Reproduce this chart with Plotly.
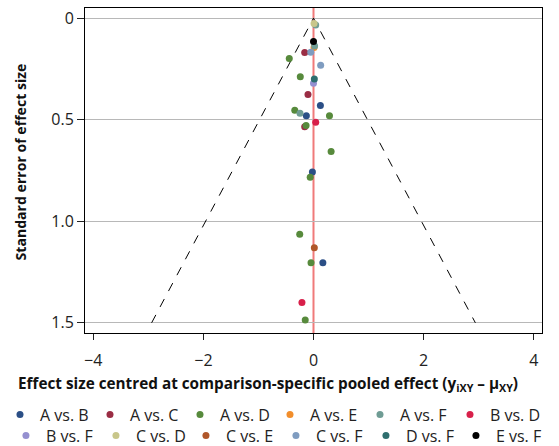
import plotly.graph_objects as go

# ---- data: (effect centred, standard error) per comparison ----
comparisons = ["A vs. B", "A vs. C", "A vs. D", "A vs. E", "A vs. F", "B vs. D",
               "B vs. F", "C vs. D", "C vs. E", "C vs. F", "D vs. F", "E vs. F"]

ab_x = [0.125, -0.13, -0.02, 0.17]
ab_se = [0.430, 0.480, 0.757, 1.204]
ac_x = [-0.16, -0.10, -0.16]
ac_se = [0.169, 0.376, 0.534]
ad_x = [-0.44, -0.24, -0.34, 0.29, -0.135, 0.32, -0.06, -0.25, -0.045, -0.15]
ad_se = [0.199, 0.289, 0.453, 0.480, 0.529, 0.657, 0.783, 1.064, 1.204, 1.486]
ae_x = [0.01]
ae_se = [0.145]
af_x = [0.04, 0.02, -0.245]
af_se = [0.034, 0.137, 0.468]
bd_x = [0.04, -0.21]
bd_se = [0.512, 1.400]
bf_x = [0.0]
bf_se = [0.320]
cd_x = [0.01]
cd_se = [0.026]
ce_x = [0.015]
ce_se = [1.130]
cf_x = [-0.05, 0.13]
cf_se = [0.168, 0.232]
df_x = [0.015]
df_se = [0.299]
ef_x = [0.0]
ef_se = [0.115]

xs = [ab_x, ac_x, ad_x, ae_x, af_x, bd_x, bf_x, cd_x, ce_x, cf_x, df_x, ef_x]
ses = [ab_se, ac_se, ad_se, ae_se, af_se, bd_se, bf_se, cd_se, ce_se, cf_se, df_se, ef_se]

colors = ["#2b4f86", "#9a2d44", "#578a3c", "#f28e2b", "#6f9c94", "#d8204a",
          "#9590d0", "#c8c68a", "#b0572a", "#7f9cc0", "#2e6e6e", "#000000"]

funnel_se = [1.5, 0.0, 1.5]
z_crit = 1.96

x_ticks = [-4, -2, 0, 2, 4]
y_ticks = [0, 0.5, 1.0, 1.5]
y_ticktext = ["0", "0.5", "1.0", "1.5"]

x_title = "Effect size centred at comparison-specific pooled effect (y<sub>iXY</sub> \u2013 \u03bc<sub>XY</sub>)"
y_title = "Standard error of effect size"

FONT = "Open Sans"
TXT = "#222222"

fig = go.Figure()

# pseudo 95% confidence funnel
fig.add_trace(go.Scatter(
    x=[-z_crit * funnel_se[0], 0, z_crit * funnel_se[2]], y=funnel_se,
    mode="lines", line=dict(color="black", width=1, dash="dash"),
    showlegend=False, hoverinfo="skip"))

for i, (name, x, se, c) in enumerate(zip(comparisons, xs, ses, colors)):
    fig.add_trace(go.Scatter(
        x=x, y=se, mode="markers", name=name,
        marker=dict(color=c, size=7, line=dict(width=0)),
        legend="legend" if i < 6 else "legend2"))

fig.add_shape(type="line", xref="x", yref="paper", x0=0, x1=0, y0=0, y1=1,
              line=dict(color="#f07a7a", width=2), layer="between")

legend_common = dict(orientation="h", xanchor="left", yanchor="middle",
                     entrywidth=45, entrywidthmode="pixels",
                     font=dict(family=FONT, size=16, color=TXT),
                     bgcolor="rgba(0,0,0,0)", borderwidth=0, itemwidth=30)

fig.update_layout(
    width=559, height=446,
    margin=dict(l=85, r=17, t=8, b=113, autoexpand=False),
    plot_bgcolor="white", paper_bgcolor="white",
    font=dict(family=FONT, size=14, color=TXT),
    legend=dict(x=-0.186, y=-0.251, **legend_common),
    legend2=dict(x=-0.173, y=-0.316, **legend_common),
    xaxis=dict(range=[-4.15, 4.15], tickvals=x_ticks, ticks="outside", ticklen=6,
               tickcolor=TXT, showgrid=False, zeroline=False, automargin=False,
               ticklabelstandoff=7,
               showline=True, mirror=True, linecolor="black", linewidth=1,
               tickfont=dict(family=FONT, size=16, color=TXT)),
    yaxis=dict(range=[1.55, -0.05], tickvals=y_ticks, ticktext=y_ticktext,
               ticks="outside", ticklen=7, tickcolor=TXT, automargin=False,
               showgrid=True, gridcolor="#b8b8b8", gridwidth=1, zeroline=False,
               showline=True, mirror=True, linecolor="black", linewidth=1,
               tickfont=dict(family=FONT, size=16, color=TXT)),
    annotations=[
        dict(text=x_title, xref="paper", yref="paper", x=0.4004, y=-0.157,
             xanchor="center", yanchor="middle", showarrow=False,
             font=dict(family=FONT, size=15.3, color="#111111", weight="bold")),
        dict(text=y_title, xref="paper", yref="paper", x=-0.142, y=0.525,
             xanchor="center", yanchor="middle", showarrow=False, textangle=-90,
             font=dict(family=FONT, size=14.1, color="#111111", weight="bold")),
    ],
)

fig.write_html("out.html", config={"displayModeBar": False},
               post_script="document.body.style.margin='0px';")
